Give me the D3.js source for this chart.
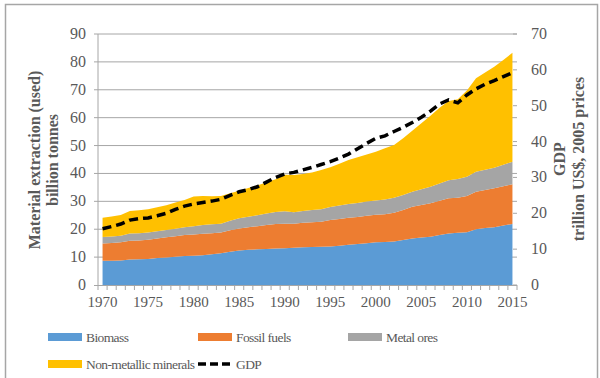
<!DOCTYPE html>
<html>
<head>
<meta charset="utf-8">
<script src="https://cdn.jsdelivr.net/npm/d3@7"></script>
<style>
  body { margin: 0; background: #fff; }
  text { font-family: "Liberation Serif", "Times New Roman", serif; fill: #595959; }
</style>
</head>
<body>
<svg width="600" height="378"></svg>
<script>
// values
var years = d3.range(1970, 2016)
var biomass = [8.7, 8.7, 8.8, 9.1, 9.2, 9.3, 9.7, 9.9, 10.1, 10.4,
  10.5, 10.7, 11.0, 11.4, 11.9, 12.4, 12.6, 12.8, 12.9, 13.1,
  13.2, 13.4, 13.5, 13.6, 13.7, 13.8, 14.1, 14.4, 14.7, 15.0,
  15.3, 15.4, 15.6, 16.1, 16.7, 17.0, 17.3, 17.9, 18.5, 18.7,
  18.9, 20.0, 20.4, 20.7, 21.3, 21.9]
var fossil = [6.2, 6.4, 6.5, 6.8, 6.8, 6.9, 7.0, 7.2, 7.4, 7.5,
  7.6, 7.7, 7.6, 7.4, 7.7, 7.9, 8.1, 8.3, 8.6, 8.8,
  8.8, 8.6, 8.8, 8.9, 9.0, 9.5, 9.6, 9.7, 9.7, 9.8,
  9.9, 10.0, 10.3, 10.8, 11.4, 11.7, 12.0, 12.3, 12.6, 12.6,
  13.0, 13.4, 13.7, 14.0, 14.1, 14.2]
var metal = [2.3, 2.3, 2.4, 2.6, 2.6, 2.6, 2.6, 2.6, 2.7, 2.8,
  3.0, 3.1, 3.2, 3.2, 3.4, 3.6, 3.8, 3.9, 4.1, 4.3,
  4.4, 4.1, 4.2, 4.4, 4.5, 4.7, 4.8, 4.9, 5.0, 5.1,
  5.1, 5.3, 5.4, 5.4, 5.3, 5.6, 5.9, 6.2, 6.5, 6.7,
  6.9, 7.2, 7.2, 7.3, 7.7, 8.1]
var nonMetallic = [6.9, 7.2, 7.4, 8.0, 8.2, 8.4, 8.6, 8.9, 9.4, 9.8,
  10.6, 10.4, 10.0, 9.9, 9.9, 9.9, 10.3, 10.7, 11.2, 11.7,
  13.1, 13.3, 13.3, 13.4, 14.0, 14.2, 15.0, 15.8, 16.4, 16.9,
  17.5, 18.3, 18.9, 20.3, 21.9, 23.7, 25.5, 27.2, 28.4, 28.6,
  30.9, 33.5, 34.9, 36.3, 37.6, 39.1]
var gdp = [15.7, 16.3, 17.0, 18.1, 18.5, 18.7, 19.3, 20.0, 21.1, 22.0,
  22.6, 23.0, 23.4, 23.9, 25.0, 26.0, 26.6, 27.4, 28.7, 30.0,
  31.0, 31.4, 32.1, 32.8, 33.6, 34.4, 35.4, 36.5, 38.0, 39.5,
  40.9, 41.6, 42.8, 44.0, 45.3, 46.8, 48.5, 50.5, 51.6, 50.8,
  53.0, 54.7, 56.0, 57.0, 58.1, 59.2]
var seriesNames = ["Biomass", "Fossil fuels", "Metal ores", "Non-metallic minerals"]
var seriesColors = ["#5b9bd5", "#ed7d31", "#a5a5a5", "#ffc000"]
var leftTicks = d3.range(0, 91, 10)
var rightTicks = d3.range(0, 71, 10)
var yearLabels = d3.range(1970, 2016, 5)

var rows = years.map((yr, i) => ({
  year: yr,
  "Biomass": biomass[i],
  "Fossil fuels": fossil[i],
  "Metal ores": metal[i],
  "Non-metallic minerals": nonMetallic[i]
}))

var svg = d3.select("svg")

// outer frame
svg.append("rect")
  .attr("x", 5.5).attr("y", 4.5).attr("width", 592).attr("height", 380)
  .attr("fill", "none").attr("stroke", "#a6a6a6").attr("stroke-width", 1.5)

var x = d3.scaleBand().domain(years).range([98, 517])
var xc = d => x(d) + x.bandwidth() / 2
var yL = d3.scaleLinear().domain([0, 90]).range([285, 34])
var yR = d3.scaleLinear().domain([0, 70]).range([285, 34])

// gridlines
svg.append("g").selectAll("line")
  .data(leftTicks.filter(d => d > 0)).enter()
  .append("line")
  .attr("x1", 94).attr("x2", 517)
  .attr("y1", d => yL(d)).attr("y2", d => yL(d))
  .attr("stroke", "#a6a6a6").attr("stroke-width", 1)

// stacked areas
var stack = d3.stack().keys(seriesNames)
var layers = stack(rows)
var area = d3.area()
  .x(d => xc(d.data.year))
  .y0(d => yL(d[0]))
  .y1(d => yL(d[1]))

svg.append("g").selectAll("path")
  .data(layers).enter()
  .append("path")
  .attr("d", area)
  .attr("fill", (d, i) => seriesColors[i])

// axes lines
svg.append("line").attr("x1", 98).attr("x2", 98).attr("y1", 34).attr("y2", 285)
  .attr("stroke", "#a6a6a6")
svg.append("line").attr("x1", 94).attr("x2", 517).attr("y1", 285.5).attr("y2", 285.5)
  .attr("stroke", "#a6a6a6")
svg.append("g").selectAll("line")
  .data(years.concat([2016])).enter()
  .append("line")
  .attr("x1", d => d === 2016 ? 517 : x(d)).attr("x2", d => d === 2016 ? 517 : x(d))
  .attr("y1", 285).attr("y2", 290)
  .attr("stroke", "#a6a6a6")
svg.append("g").selectAll("line")
  .data(rightTicks).enter()
  .append("line")
  .attr("x1", 513).attr("x2", 517)
  .attr("y1", d => yR(d)).attr("y2", d => yR(d))
  .attr("stroke", "#a6a6a6")

// GDP line
var line = d3.line()
  .x((d, i) => xc(years[i]))
  .y(d => yR(d))
svg.append("path")
  .datum(gdp)
  .attr("d", line)
  .attr("fill", "none")
  .attr("stroke", "#000")
  .attr("stroke-width", 3.5)
  .attr("stroke-dasharray", "9,5")

// tick labels
svg.append("g").selectAll("text")
  .data(leftTicks).enter()
  .append("text")
  .attr("x", 86).attr("y", d => yL(d) + 5)
  .attr("text-anchor", "end")
  .style("font-size", "16px")
  .text(d => d)
svg.append("g").selectAll("text")
  .data(rightTicks).enter()
  .append("text")
  .attr("x", 531).attr("y", d => yR(d) + 5)
  .style("font-size", "16px")
  .text(d => d)
svg.append("g").selectAll("text")
  .data(yearLabels).enter()
  .append("text")
  .attr("x", d => xc(d)).attr("y", 307)
  .attr("text-anchor", "middle")
  .style("font-size", "15px")
  .text(d => d)

// axis titles
var leftTitle = svg.append("text")
  .attr("transform", "translate(40,160) rotate(-90)")
  .attr("text-anchor", "middle")
  .style("font-size", "16px").style("font-weight", "bold")
leftTitle.append("tspan").attr("x", 0).attr("y", 0).text("Material extraction (used)")
leftTitle.append("tspan").attr("x", 0).attr("y", 18).text("billion tonnes")

var rightTitle = svg.append("text")
  .attr("transform", "translate(565,159) rotate(-90)")
  .attr("text-anchor", "middle")
  .style("font-size", "16px").style("font-weight", "bold")
rightTitle.append("tspan").attr("x", 0).attr("y", 0).text("GDP")
rightTitle.append("tspan").attr("x", 0).attr("y", 19).text("trillion US$, 2005 prices")

// legend
var legendItems = [
  {name: "Biomass", color: seriesColors[0], lx: 48, ly: 337},
  {name: "Fossil fuels", color: seriesColors[1], lx: 198, ly: 337},
  {name: "Metal ores", color: seriesColors[2], lx: 348, ly: 337},
  {name: "Non-metallic minerals", color: seriesColors[3], lx: 48, ly: 364}
]
var lg = svg.append("g").selectAll("g")
  .data(legendItems).enter()
  .append("g")
  .attr("transform", d => "translate(" + d.lx + "," + d.ly + ")")
lg.append("rect")
  .attr("x", 0).attr("y", -4).attr("width", 34).attr("height", 8)
  .attr("fill", d => d.color)
lg.append("text")
  .attr("x", 38).attr("y", 5)
  .style("font-size", "13.5px").style("letter-spacing", "-0.6px")
  .text(d => d.name)

var gl = svg.append("g").attr("transform", "translate(198,364)")
gl.append("line")
  .attr("x1", 0).attr("x2", 33).attr("y1", 0).attr("y2", 0)
  .attr("stroke", "#000").attr("stroke-width", 3.5)
  .attr("stroke-dasharray", "8,4")
gl.append("text")
  .attr("x", 38).attr("y", 5)
  .style("font-size", "13.5px").style("letter-spacing", "-0.6px")
  .text("GDP")
</script>
</body>
</html>
